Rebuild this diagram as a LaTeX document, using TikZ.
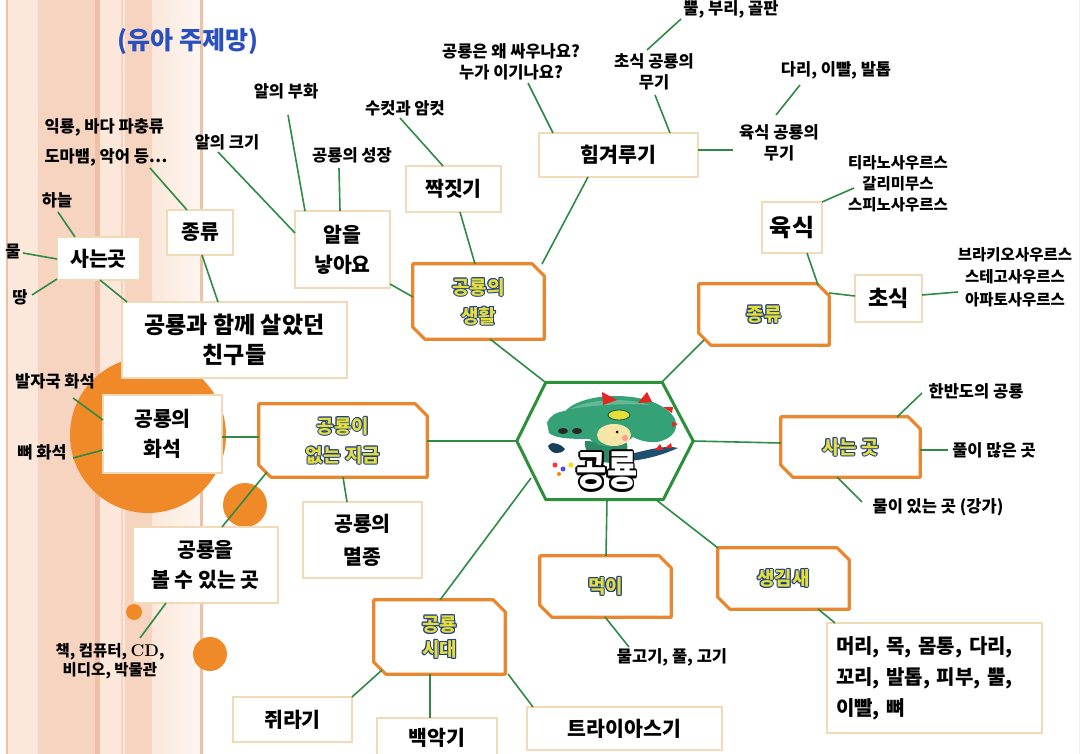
\documentclass[tikz,border=0pt]{standalone}
\usepackage{fontspec}
\usetikzlibrary{calc}
\newfontfamily\kr{Noto Sans CJK KR}

\definecolor{linegreen}{HTML}{2E8B45}
\definecolor{hexgreen}{HTML}{2C8F3A}
\definecolor{boxorange}{HTML}{E8872E}
\definecolor{paleedge}{HTML}{F2D9B8}
\definecolor{titleblue}{HTML}{2A4FBF}
\definecolor{ytextedge}{HTML}{1F3C8C}
\definecolor{ytextfill}{HTML}{E2DE3A}
\definecolor{dotorange}{HTML}{F08A28}
\definecolor{stripeA}{HTML}{FBE8DA}
\definecolor{stripeB}{HTML}{F6D4C0}
\definecolor{stripeC}{HTML}{F0C0A6}
\definecolor{dinogreen}{HTML}{34A276}
\definecolor{dinodark}{HTML}{1E4F6E}
\definecolor{dinored}{HTML}{E52521}
\definecolor{dinoface}{HTML}{F5E6A8}

% text with a coloured outline: [width]{outline}{fill}{text}
\newdimen\olw
\newcommand\outl[4][1.2pt]{%
  \leavevmode\olw=#1\relax
  \rlap{\color{#2}%
    \rlap{\kern\olw\hbox{#4}}\rlap{\kern-\olw\hbox{#4}}%
    \rlap{\raise\olw\hbox{#4}}\rlap{\lower\olw\hbox{#4}}%
    \rlap{\kern.7\olw\raise.7\olw\hbox{#4}}\rlap{\kern-.7\olw\raise.7\olw\hbox{#4}}%
    \rlap{\kern.7\olw\lower.7\olw\hbox{#4}}\rlap{\kern-.7\olw\lower.7\olw\hbox{#4}}}%
  {\color{#3}#4}}
\newcommand\yt[1]{\outl[1pt]{ytextedge}{ytextfill}{#1}}

% orange frame with two cut corners around a named node
\newcommand\chamferedge[1]{%
  \draw[mainedge] (#1.north west) -- ([xshift=-12pt]#1.north east)
    -- ([yshift=-12pt]#1.north east) -- (#1.south east)
    -- ([xshift=12pt]#1.south west) -- ([yshift=12pt]#1.south west) -- cycle;}

\tikzset{
  conn/.style={draw=linegreen, line width=1.6pt},
  plainbox/.style={draw=paleedge, line width=2.4pt, fill=white, align=center,
    inner sep=0pt, font=\kr\bfseries\fontsize{20.5}{30}\selectfont},
  mainbox/.style={inner sep=0pt, align=center,
    font=\kr\bfseries\fontsize{19}{29}\selectfont},
  mainedge/.style={draw=boxorange, line width=3.2pt, line join=round},
  leaf/.style={inner sep=0pt, align=center,
    font=\kr\bfseries\fontsize{16.5}{21}\selectfont},
}

\begin{document}
\begin{tikzpicture}[x=1pt,y=-1pt]
\useasboundingbox (0,0) rectangle (1085,754);
\fill[white] (0,0) rectangle (1085,754);

% striped paper along the left edge
\fill[stripeA] (7,0) rectangle (200,754);
\fill[stripeB] (38,0) rectangle (95,754);
\fill[stripeC] (95,0) rectangle (100,754);
\fill[stripeB] (125,0) rectangle (152,754);
\shade[left color=stripeA, right color=stripeA!40] (152,0) rectangle (200,754);
\draw[stripeC, line width=2pt] (7,0) -- (7,754);
\draw[stripeC!70, line width=1.5pt] (122,0) -- (122,754);
\draw[stripeC, line width=3pt] (201.5,0) -- (201.5,754);
\draw[black!6, line width=1pt] (1079,0) -- (1079,754);

% orange dots
\fill[dotorange] (148,435) circle (78);
\fill[dotorange] (245,505) circle (22);
\fill[dotorange] (134,612) circle (8);
\fill[dotorange] (210,654) circle (17);

% title
\node[font=\kr\bfseries\fontsize{25}{28}\selectfont, text=titleblue, inner sep=0pt] (title) at (188,42) {(유아 주제망)};

% central hexagon with the little dinosaur
\node[minimum width=176pt, minimum height=117pt, inner sep=0pt] (hub) at (605,441) {};
\fill[white] ([xshift=29pt]hub.north west) -- ([xshift=-31pt]hub.north east) -- (hub.east)
  -- ([xshift=-30pt]hub.south east) -- ([xshift=29pt]hub.south west) -- (hub.west) -- cycle;
\begin{scope}[shift={(hub.center)}]
  % tail
  \fill[dinodark] (22,14) .. controls (45,8) and (62,4) .. (73,7) .. controls (62,12) and (45,18) .. (25,20) -- cycle;
  \fill[dinored] (50,9) -- (55,3) -- (58,9) -- cycle;
  \fill[dinored] (60,7) -- (66,2) -- (67,7) -- cycle;
  % body
  \fill[dinogreen!85!black] (-20,0) .. controls (-22,12) and (-10,22) .. (8,22) .. controls (18,20) and (24,12) .. (22,2) -- cycle;
  % head
  \fill[dinogreen] (-58,-18) .. controls (-55,-26) and (-48,-29) .. (-40,-30)
    .. controls (-30,-40) and (-10,-45) .. (10,-45) .. controls (40,-45) and (62,-36) .. (70,-22)
    .. controls (74,-12) and (68,-2) .. (52,1) .. controls (40,2) and (32,-2) .. (28,-4)
    .. controls (18,6) and (-5,10) .. (-15,-2) .. controls (-30,-2) and (-50,-2) .. (-56,-8) -- cycle;
  \fill[dinogreen!60!white, opacity=.6] (-35,-32) .. controls (-15,-42) and (20,-44) .. (45,-36)
    .. controls (20,-38) and (-10,-36) .. (-35,-32) -- cycle;
  % spikes
  \fill[dinored] (-3,-49) -- (12,-41) -- (-2,-36) -- cycle;
  \fill[dinored] (42,-49) -- (33,-38) -- (47,-39) -- cycle;
  \fill[dinored] (58,-34) -- (68,-34) -- (67,-28) -- cycle;
  \fill[dinored] (67,-19) -- (73,-17) -- (67,-14) -- cycle;
  % top eye
  \fill[ytextfill] (14,-26) ellipse (11 and 5);
  \draw[dinogreen!50!black, line width=.8pt] (14,-26) ellipse (11 and 5);
  % nostrils
  \fill[black!85] (-42,-10) ellipse (5 and 3);
  \fill[black!85] (-28,-10) ellipse (5 and 3);
  % face
  \fill[dinoface] (9,-6) ellipse (17 and 11);
  \fill[black] (12,-9) circle (1.5);
  \fill[red!40] (20,-3) circle (3);
  % paw and paint spots
  \fill[dinodark!80!black] (-57,5) .. controls (-55,0) and (-45,2) .. (-40,8) .. controls (-44,14) and (-54,14) .. (-57,5) -- cycle;
  \fill[red!80] (-50,24) circle (2.5);
  \fill[blue!70] (-42,28) circle (2.5);
  \fill[yellow!80!orange] (-34,24) circle (2.5);
  \fill[green!60!black] (-26,29) circle (2.5);
  \fill[orange] (-46,33) circle (2);
\end{scope}
\draw[draw=hexgreen, line width=3pt, line join=round] ([xshift=29pt]hub.north west) -- ([xshift=-31pt]hub.north east) -- (hub.east)
  -- ([xshift=-30pt]hub.south east) -- ([xshift=29pt]hub.south west) -- (hub.west) -- cycle;
\node[font=\kr\bfseries\fontsize{41}{44}\selectfont, inner sep=0pt] (hubtext) at (607,471)
  {\scalebox{0.8}[1]{\outl[2.4pt]{black}{white}{공룡}}};

% main topics
\node[mainbox, minimum width=131pt, minimum height=75pt] (life) at (478.5,301.5) {\yt{공룡의}\\\yt{생활}};
\chamferedge{life}
\node[mainbox, minimum width=130pt, minimum height=61pt] (kindR) at (764,314.5) {\yt{종류}};
\chamferedge{kindR}
\node[mainbox, minimum width=139pt, minimum height=60pt] (liveR) at (850.5,447) {\yt{사는 곳}};
\chamferedge{liveR}
\node[mainbox, minimum width=168pt, minimum height=73pt] (now) at (343,440.5) {\yt{공룡이}\\\yt{없는 지금}};
\chamferedge{now}
\node[mainbox, minimum width=131pt, minimum height=61pt] (food) at (605.5,586.5) {\yt{먹이}};
\chamferedge{food}
\node[mainbox, minimum width=131pt, minimum height=61pt] (shape) at (783.5,578.5) {\yt{생김새}};
\chamferedge{shape}
\node[mainbox, minimum width=131pt, minimum height=74pt, font=\kr\bfseries\fontsize{19}{25}\selectfont] (era) at (439.5,637) {\yt{공룡}\\\yt{시대}};
\chamferedge{era}

% sub topics
\node[plainbox, minimum width=159pt, minimum height=44pt] (him) at (618.5,155) {힘겨루기};
\node[plainbox, minimum width=95pt, minimum height=46pt] (jjak) at (453.5,189) {짝짓기};
\node[plainbox, minimum width=95pt, minimum height=77pt] (egg) at (342.5,249.5) {알을\\낳아요};
\node[plainbox, minimum width=66pt, minimum height=45pt] (kindL) at (200,232.5) {종류};
\node[plainbox, minimum width=83pt, minimum height=43pt] (liveL) at (98.5,258.5) {사는곳};
\node[plainbox, minimum width=225pt, minimum height=76pt, font=\kr\bfseries\fontsize{23}{30}\selectfont] (friends) at (234.5,340) {공룡과 함께 살았던\\친구들};
\node[plainbox, minimum width=119pt, minimum height=78pt] (fossil) at (162.5,434) {공룡의\\화석};
\node[plainbox, minimum width=119pt, minimum height=76pt, font=\kr\bfseries\fontsize{20.5}{33}\selectfont] (extinct) at (362.5,540) {공룡의\\멸종};
\node[plainbox, minimum width=145pt, minimum height=76pt] (see) at (205.5,565) {공룡을\\볼 수 있는 곳};
\node[plainbox, minimum width=119pt, minimum height=45pt] (jura) at (292.5,719.5) {쥐라기};
\node[plainbox, minimum width=120pt, minimum height=40pt] (creta) at (437,738) {백악기};
\node[plainbox, minimum width=195pt, minimum height=43pt] (tria) at (624.5,728.5) {트라이아스기};
\node[plainbox, minimum width=60pt, minimum height=51pt, font=\kr\bfseries\fontsize{24}{28}\selectfont] (meat) at (792,227.5) {육식};
\node[plainbox, minimum width=67pt, minimum height=47pt, font=\kr\bfseries\fontsize{22}{28}\selectfont] (plant) at (888.5,298.5) {초식};
\node[plainbox, minimum width=215pt, minimum height=110pt, text width=197pt, align=left, font=\kr\bfseries\fontsize{20}{31}\selectfont] (body) at (934.5,678) {머리, 목, 몸통, 다리,\\꼬리, 발톱, 피부, 뿔,\\이빨, 뼈};

% details
\node[leaf] (horn) at (731,9) {뿔, 부리, 골판};
\node[leaf] (why) at (511,62) {공룡은 왜 싸우나요?\\누가 이기나요?};
\node[leaf] (herbw) at (654,72) {초식 공룡의\\무기};
\node[leaf] (teeth) at (836,70) {다리, 이빨, 발톱};
\node[leaf] (carnw) at (779,143) {육식 공룡의\\무기};
\node[leaf, font=\kr\bfseries\fontsize{15.5}{21}\selectfont] (carnlist) at (898,184) {티라노사우르스\\갈리미무스\\스피노사우르스};
\node[leaf, font=\kr\bfseries\fontsize{15.5}{22.5}\selectfont] (herblist) at (1015,277) {브라키오사우르스\\스테고사우르스\\아파토사우르스};
\node[leaf] (mf) at (405,108) {수컷과 암컷};
\node[leaf] (hatch) at (286,91) {알의 부화};
\node[leaf] (size) at (227,142) {알의 크기};
\node[leaf] (grow) at (352,155) {공룡의 성장};
\node[leaf, align=left, font=\kr\bfseries\fontsize{16.5}{30}\selectfont] (others) at (106,142) {익룡, 바다 파충류\\도마뱀, 악어 등…};
\node[leaf] (sky) at (57,200) {하늘};
\node[leaf] (water) at (13,252) {물};
\node[leaf] (land) at (20,297) {땅};
\node[leaf] (foot) at (55,381) {발자국 화석};
\node[leaf] (bone) at (42,452) {뼈 화석};
\node[leaf, font=\kr\bfseries\fontsize{15.5}{19}\selectfont] (media) at (110,661) {책, 컴퓨터, {\rmfamily\bfseries\fontsize{17}{19}\selectfont CD},\\비디오, 박물관};
\node[leaf] (korea) at (976,391) {한반도의 공룡};
\node[leaf] (grass) at (994,450) {풀이 많은 곳};
\node[leaf] (river) at (938,507) {물이 있는 곳 (강가)};
\node[leaf] (fish) at (672,657) {물고기, 풀, 고기};

% connectors from the centre
\draw[conn] ($(hub)+(-60,-59)$) -- ($(life)+(11.5,37.5)$);
\draw[conn] ($(hub)+(57,-59)$) -- ($(kindR)+(-60,25.5)$);
\draw[conn] ($(hub)+(88,0)$) -- ($(liveR)+(-69.5,-4)$);
\draw[conn] ($(hub)+(-88,0)$) -- ($(now)+(84,0.5)$);
\draw[conn] ($(hub)+(-74,37)$) -- ($(era)+(0.5,-37)$);
\draw[conn] ($(hub)+(2,58)$) -- ($(food)+(0.5,-30.5)$);
\draw[conn] ($(hub)+(50,58)$) -- ($(shape)+(-65.5,-30.5)$);

% life branch
\draw[conn] ($(him)+(-30.5,22)$) -- ($(life)+(63.5,-37.5)$);
\draw[conn] ($(jjak)+(6.5,23)$) -- ($(life)+(-3.5,-37.5)$);
\draw[conn] ($(egg)+(47.5,34.5)$) -- ($(life)+(-65.5,-4.5)$);
\draw[conn] ($(why)+(17,21)$) -- ($(him)+(-65.5,-22)$);
\draw[conn] ($(herbw)+(1,23)$) -- ($(him)+(51.5,-22)$);
\draw[conn] ($(horn)+(-50,10)$) -- ($(herbw)+(-7,-22)$);
\draw[conn] ($(carnw)+(-46,7)$) -- ($(him)+(79.5,-5)$);
\draw[conn] ($(teeth)+(-36,15)$) -- ($(carnw)+(-3,-28)$);
\draw[conn] ($(mf)+(-5,10)$) -- ($(jjak)+(-10.5,-23)$);
\draw[conn] ($(hatch)+(2,24)$) -- ($(egg)+(-37.5,-38.5)$);
\draw[conn] ($(grow)+(-13,13)$) -- ($(egg)+(-2.5,-38.5)$);
\draw[conn] ($(size)+(-9,10)$) -- ($(egg)+(-47.5,-16.5)$);

% friends of the dinosaurs
\draw[conn] ($(friends)+(-16.5,-38)$) -- ($(kindL)+(2,22.5)$);
\draw[conn] ($(friends)+(-107.5,-38)$) -- ($(liveL)+(1.5,21.5)$);
\draw[conn] ($(others)+(44,26)$) -- ($(kindL)+(-13,-22.5)$);
\draw[conn] ($(sky)+(1,12)$) -- ($(liveL)+(-23.5,-21.5)$);
\draw[conn] ($(water)+(10,1)$) -- ($(liveL)+(-41.5,0.5)$);
\draw[conn] ($(land)+(12,-2)$) -- ($(liveL)+(-41.5,20.5)$);

% today branch
\draw[conn] ($(now)+(-84,-3.5)$) -- ($(fossil)+(59.5,3)$);
\draw[conn] ($(foot)+(18,17)$) -- ($(fossil)+(-59.5,-14)$);
\draw[conn] ($(bone)+(31,6)$) -- ($(fossil)+(-59.5,16)$);
\draw[conn] ($(now)+(0,36.5)$) -- ($(extinct)+(-15.5,-38)$);
\draw[conn] ($(now)+(-76,31.5)$) -- ($(see)+(16.5,-38)$);
\draw[conn] ($(media)+(30,-23)$) -- ($(see)+(-39.5,38)$);

% kinds branch
\draw[conn] ($(kindR)+(54,-29.5)$) -- ($(meat)+(15,25.5)$);
\draw[conn] ($(kindR)+(65,-21.5)$) -- ($(plant)+(-33.5,-2.5)$);
\draw[conn] ($(carnlist)+(-44,4)$) -- ($(meat)+(30,-25.5)$);
\draw[conn] ($(herblist)+(-57,15)$) -- ($(plant)+(33.5,-3.5)$);

% habitat branch
\draw[conn] ($(korea)+(-54,2)$) -- ($(liveR)+(46.5,-30)$);
\draw[conn] ($(grass)+(-46,0)$) -- ($(liveR)+(69.5,3)$);
\draw[conn] ($(river)+(-76,-5)$) -- ($(liveR)+(-13.5,30)$);

% food, looks and eras
\draw[conn] ($(fish)+(-43,-10)$) -- ($(food)+(-0.5,30.5)$);
\draw[conn] ($(shape)+(34.5,30.5)$) -- ($(body)+(-99.5,-55)$);
\draw[conn] ($(era)+(-57.5,33)$) -- ($(jura)+(59.5,-22.5)$);
\draw[conn] ($(era)+(-9.5,37)$) -- ($(creta)+(-7,-20)$);
\draw[conn] ($(era)+(68.5,37)$) -- ($(tria)+(-91.5,-21.5)$);
\end{tikzpicture}
\end{document}
